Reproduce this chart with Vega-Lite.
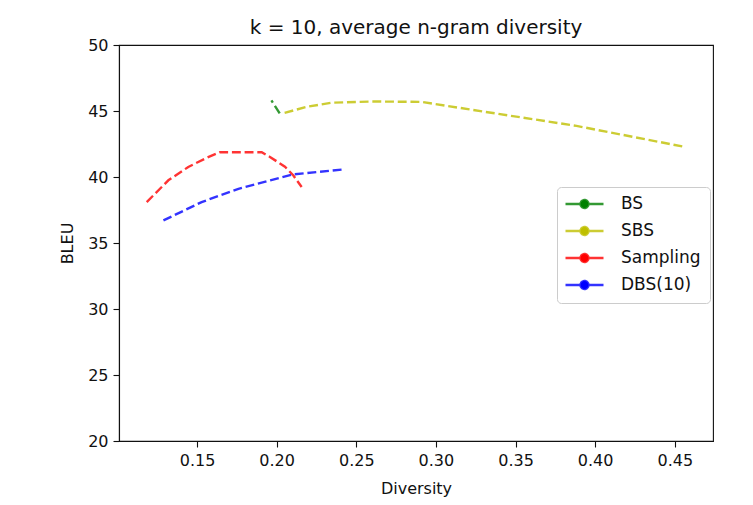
{
  "$schema": "https://vega.github.io/schema/vega-lite/v6.json",
  "autosize": {"type": "none"},
  "width": 594,
  "height": 396,
  "padding": {"left": 119, "top": 45, "right": 40, "bottom": 64},
  "background": "white",
  "title": {
    "text": "k = 10, average n-gram diversity",
    "font": "DejaVu Sans",
    "fontSize": 20,
    "fontWeight": "normal",
    "color": "#111111",
    "offset": -1
  },
  "config": {
    "view": {"stroke": "#111111", "strokeWidth": 1.1},
    "axis": {
      "grid": false,
      "domainColor": "#111111",
      "domainWidth": 1.1,
      "tickColor": "#111111",
      "tickSize": 6,
      "tickWidth": 1.1,
      "labelFont": "DejaVu Sans",
      "labelFontSize": 16,
      "labelColor": "#111111",
      "labelPadding": 5,
      "titleFont": "DejaVu Sans",
      "titleFontSize": 16,
      "titleFontWeight": "normal",
      "titleColor": "#111111"
    }
  },
  "data": {
    "values": [
      {"method": "BS", "i": 1, "diversity": 0.2019, "bleu": 44.82},
      {"method": "BS", "i": 2, "diversity": 0.1967, "bleu": 45.8},

      {"method": "SBS", "i": 1, "diversity": 0.205, "bleu": 44.86},
      {"method": "SBS", "i": 2, "diversity": 0.219, "bleu": 45.32},
      {"method": "SBS", "i": 3, "diversity": 0.2345, "bleu": 45.63},
      {"method": "SBS", "i": 4, "diversity": 0.26, "bleu": 45.72},
      {"method": "SBS", "i": 5, "diversity": 0.291, "bleu": 45.69},
      {"method": "SBS", "i": 6, "diversity": 0.3232, "bleu": 45.08},
      {"method": "SBS", "i": 7, "diversity": 0.3883, "bleu": 43.87},
      {"method": "SBS", "i": 8, "diversity": 0.4563, "bleu": 42.28},

      {"method": "Sampling", "i": 1, "diversity": 0.1184, "bleu": 38.1},
      {"method": "Sampling", "i": 2, "diversity": 0.132, "bleu": 39.75},
      {"method": "Sampling", "i": 3, "diversity": 0.1445, "bleu": 40.76},
      {"method": "Sampling", "i": 4, "diversity": 0.156, "bleu": 41.45},
      {"method": "Sampling", "i": 5, "diversity": 0.1644, "bleu": 41.88},
      {"method": "Sampling", "i": 6, "diversity": 0.1906, "bleu": 41.88},
      {"method": "Sampling", "i": 7, "diversity": 0.1958, "bleu": 41.52},
      {"method": "Sampling", "i": 8, "diversity": 0.2052, "bleu": 40.78},
      {"method": "Sampling", "i": 9, "diversity": 0.2104, "bleu": 40.13},
      {"method": "Sampling", "i": 10, "diversity": 0.2157, "bleu": 39.24},

      {"method": "DBS(10)", "i": 1, "diversity": 0.1289, "bleu": 36.71},
      {"method": "DBS(10)", "i": 2, "diversity": 0.1529, "bleu": 38.1},
      {"method": "DBS(10)", "i": 3, "diversity": 0.176, "bleu": 39.1},
      {"method": "DBS(10)", "i": 4, "diversity": 0.196, "bleu": 39.75},
      {"method": "DBS(10)", "i": 5, "diversity": 0.2105, "bleu": 40.2},
      {"method": "DBS(10)", "i": 6, "diversity": 0.2429, "bleu": 40.58}
    ]
  },
  "mark": {
    "type": "line",
    "strokeWidth": 2.4,
    "strokeDash": [8.9, 3.8],
    "strokeOpacity": 0.8
  },
  "encoding": {
    "x": {
      "field": "diversity",
      "type": "quantitative",
      "scale": {"domain": [0.101, 0.474], "nice": false, "zero": false},
      "axis": {
        "title": "Diversity",
        "values": [0.15, 0.2, 0.25, 0.3, 0.35, 0.4, 0.45],
        "format": ".2f",
        "titlePadding": 12
      }
    },
    "y": {
      "field": "bleu",
      "type": "quantitative",
      "scale": {"domain": [20, 50], "nice": false, "zero": false},
      "axis": {
        "title": "BLEU",
        "values": [20, 25, 30, 35, 40, 45, 50],
        "format": "d",
        "titlePadding": 12
      }
    },
    "order": {"field": "i", "type": "quantitative"},
    "color": {
      "field": "method",
      "type": "nominal",
      "scale": {
        "domain": ["BS", "SBS", "Sampling", "DBS(10)"],
        "range": ["#008000", "#bfbf00", "#ff0000", "#0000ff"]
      },
      "legend": {
        "title": null,
        "orient": "none",
        "legendX": 438,
        "legendY": 142,
        "padding": 8.5,
        "fillColor": "rgba(255,255,255,0.8)",
        "strokeColor": "#cccccc",
        "cornerRadius": 4,
        "labelFont": "DejaVu Sans",
        "labelFontSize": 17,
        "labelColor": "#111111",
        "labelOffset": 38.5,
        "rowPadding": 8,
        "symbolType": "M-1.7,0H5.9M2.9,0A0.8,0.8,0,1,1,1.3,0A0.8,0.8,0,1,1,2.9,0Z",
        "symbolSize": 100,
        "symbolStrokeWidth": 2.4,
        "symbolDash": [1, 0],
        "encode": {
          "symbols": {
            "update": {
              "fill": {"scale": "color", "field": "value"},
              "fillOpacity": {"value": 1},
              "strokeOpacity": {"value": 0.8},
              "strokeDash": {"value": [1, 0]}
            }
          }
        }
      }
    }
  }
}
